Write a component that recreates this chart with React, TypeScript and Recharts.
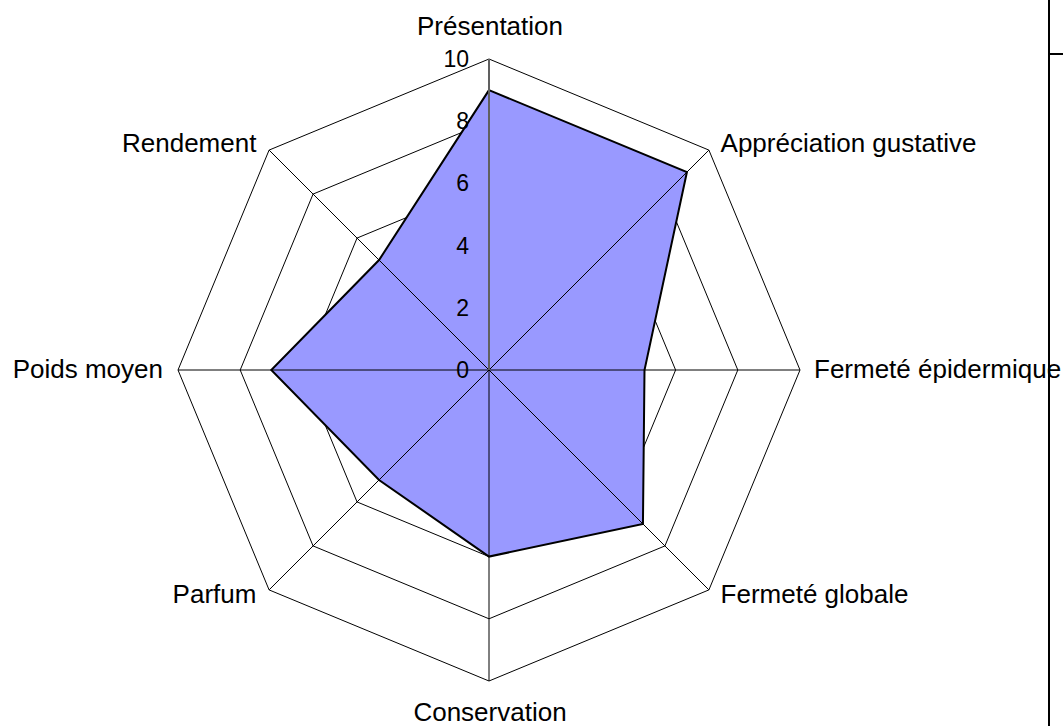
import React from 'react';
import { RadarChart, Radar, PolarGrid, PolarAngleAxis, PolarRadiusAxis } from 'recharts';

const categories = [
  'Présentation',
  'Appréciation gustative',
  'Fermeté épidermique',
  'Fermeté globale',
  'Conservation',
  'Parfum',
  'Poids moyen',
  'Rendement',
];
const values = [9, 9, 5, 7, 6, 5, 7, 5];
const radiusTicks = [0, 2, 4, 6, 8, 10];

const data = categories.map((c, i) => ({ name: c, value: values[i] }));

const CX = 489;
const CY = 370;
const R = 311;
const FONT = '"Liberation Sans", Arial, sans-serif';

const AngleTick = (props: any) => {
  const { payload } = props;
  const ang = ((payload.coordinate ?? 0) * Math.PI) / 180;
  const c = Math.cos(ang);
  const s = Math.sin(ang);
  const x = CX + (R + 8) * c;
  const y = CY - (R + 8) * s;
  let anchor: 'start' | 'middle' | 'end' = 'middle';
  let dx = 0;
  let dy = 7.5;
  if (c > 0.01) {
    anchor = 'start';
    dx = 6;
  } else if (c < -0.01) {
    anchor = 'end';
    dx = -7;
  } else {
    dx = 1;
    dy = s > 0 ? -16 : 32;
  }
  return (
    <text x={x + dx} y={y + dy} textAnchor={anchor} fontSize={26} fontFamily={FONT} fill="#000">
      {payload.value}
    </text>
  );
};

const RadiusTick = (props: any) => {
  const { x, y, payload } = props;
  return (
    <text
      x={x - 20}
      y={y}
      textAnchor="end"
      dominantBaseline="central"
      fontSize={23}
      fontFamily={FONT}
      fill="#000"
    >
      {payload.value}
    </text>
  );
};

export default function App() {
  return (
    <div style={{ position: 'absolute', left: 0, top: 0, width: 1063, height: 726, background: '#fff' }}>
      <RadarChart
        width={1063}
        height={726}
        data={data}
        cx={CX}
        cy={CY}
        outerRadius={R}
        margin={{ top: 0, right: 0, bottom: 0, left: 0 }}
      >
        <PolarGrid gridType="polygon" radialLines={false} stroke="#000" strokeOpacity={1} />
        <Radar
          dataKey="value"
          fill="#9999FF"
          fillOpacity={1}
          stroke="#000"
          strokeWidth={2}
          isAnimationActive={false}
        />
        <PolarAngleAxis
          dataKey="name"
          orientation="inner"
          tickSize={R}
          tick={AngleTick}
          tickLine={{ stroke: '#000', strokeWidth: 1 }}
          axisLine={false}
        />
        <PolarRadiusAxis
          angle={90}
          domain={[0, 10]}
          ticks={radiusTicks as any}
          tickCount={6}
          tick={RadiusTick}
          tickLine={false}
          axisLine={{ stroke: '#606060', strokeWidth: 2 }}
        />
      </RadarChart>
      <div style={{ position: 'absolute', left: 1048, top: 0, width: 2, height: 726, background: '#000' }} />
      <div style={{ position: 'absolute', left: 1050, top: 53, width: 13, height: 2, background: '#000' }} />
    </div>
  );
}
